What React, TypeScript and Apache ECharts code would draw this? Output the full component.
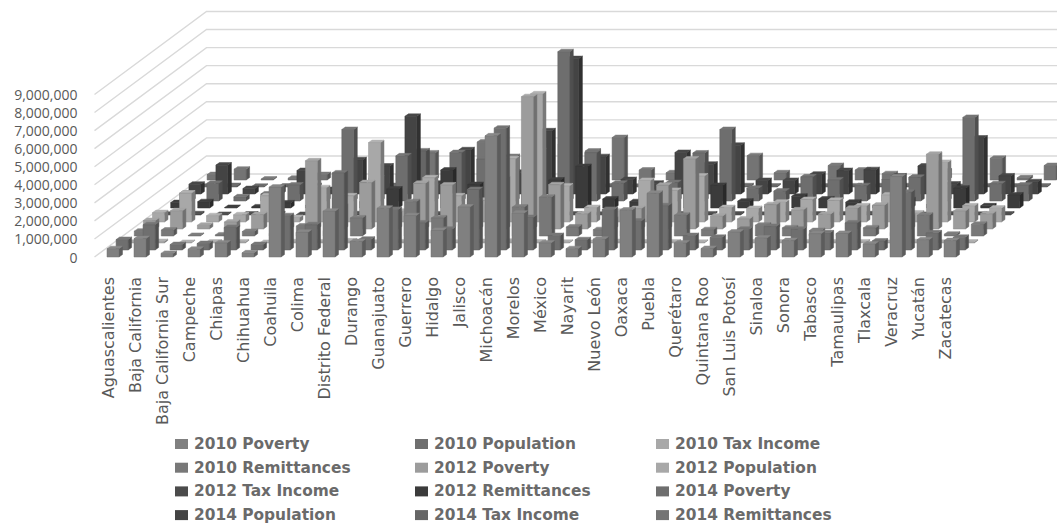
import React, { useEffect, useRef } from "react";
import * as echarts from "echarts";

const states = ["Aguascalientes","Baja California","Baja California Sur","Campeche","Chiapas","Chihuahua","Coahuila","Colima","Distrito Federal","Durango","Guanajuato","Guerrero","Hidalgo","Jalisco","Michoacán","Morelos","México","Nayarit","Nuevo León","Oaxaca","Puebla","Querétaro","Quintana Roo","San Luis Potosí","Sinaloa","Sonora","Tabasco","Tamaulipas","Tlaxcala","Veracruz","Yucatán","Zacatecas"];

// Values per state, in millions.
const poverty2010 = [0.46,1.02,0.2,0.43,0.78,0.23,3.87,1.37,2.54,0.86,2.7,2.29,1.47,2.77,6.71,2.43,0.78,0.46,0.99,2.6,3.53,0.77,0.47,1.38,1.05,0.91,1.29,1.3,0.72,4.45,0.96,0.91];
const population2010 = [0.58,1.4,0.3,0.36,1.25,0.3,1.9,1.4,4.27,0.6,2.25,1.5,1.15,3.35,6.75,1.8,0.8,0.57,2.25,1.6,2.45,0.8,0.7,1.15,1.3,1.15,0.95,1.5,0.5,3.2,0.95,0.7];
const taxIncome2010 = [0.04,0.08,0.03,0.05,0.06,0.03,0.07,0.06,0.12,0.04,0.06,0.05,0.04,0.08,0.1,0.05,0.04,0.03,0.08,0.05,0.06,0.04,0.04,0.05,0.05,0.06,0.06,0.06,0.03,0.07,0.04,0.05];
const remittances2010 = [0.27,0.33,0.03,0.06,0.25,0.15,0.55,0.3,1.0,0.45,1.9,1.0,0.65,1.75,1.6,2.15,0.5,0.35,0.3,1.15,1.15,0.35,0.1,0.6,0.45,0.3,0.12,0.45,0.2,1.15,0.1,0.65];
const poverty2012 = [0.47,1.01,0.21,0.39,0.8,0.24,3.78,1.27,2.57,0.86,2.53,2.44,1.47,2.78,7.33,2.45,0.84,0.55,1.13,2.43,3.88,0.71,0.56,1.35,1.06,0.82,1.15,1.32,0.71,4.14,1.0,0.84];
const population2012 = [0.52,1.6,0.35,0.4,1.45,0.25,1.9,1.45,4.4,0.6,2.45,1.45,1.2,3.5,7.1,2.0,0.8,0.6,2.3,1.75,2.55,0.8,0.75,1.1,1.25,1.2,0.9,1.5,0.5,3.3,0.9,0.77];
const taxIncome2012 = [0.04,0.07,0.03,0.05,0.07,0.03,0.06,0.07,0.11,0.04,0.06,0.05,0.05,0.07,0.11,0.05,0.04,0.03,0.09,0.05,0.06,0.05,0.04,0.05,0.05,0.06,0.07,0.05,0.03,0.06,0.04,0.05];
const remittances2012 = [0.3,0.35,0.03,0.06,0.28,0.15,0.55,0.35,1.05,0.5,2.1,1.3,0.7,1.85,1.55,2.3,0.5,0.35,0.35,1.25,1.25,0.38,0.1,0.65,0.5,0.32,0.12,0.45,0.2,1.1,0.12,0.72];
const poverty2014 = [0.44,0.98,0.23,0.39,0.89,0.25,3.96,1.27,2.5,0.76,2.68,2.32,1.55,2.78,8.27,2.68,0.99,0.48,1.02,2.66,3.96,0.71,0.55,1.34,1.17,0.85,1.19,1.31,0.75,4.63,0.96,0.88];
const population2014 = [0.54,1.6,0.3,0.35,1.3,0.25,1.9,1.55,4.3,0.6,2.45,1.6,1.2,3.5,7.5,2.07,0.8,0.6,2.3,1.65,2.7,0.75,0.75,1.1,1.3,1.35,1.0,1.55,0.55,3.1,1.0,0.68];
const taxIncome2014 = [0.04,0.08,0.04,0.05,0.07,0.03,0.06,0.08,2.0,0.05,0.07,0.05,0.05,0.08,0.12,0.06,0.04,0.04,0.1,0.05,0.07,0.05,0.05,0.05,0.06,0.07,0.07,0.06,0.03,0.06,0.05,0.05];
const remittances2014 = [0.3,0.6,0.05,0.1,0.3,0.2,0.55,0.35,1.5,0.5,2.1,1.3,0.7,2.0,1.6,2.35,0.55,0.4,0.4,1.3,1.35,0.4,0.12,0.8,0.55,0.35,0.15,0.5,0.25,1.2,0.12,0.8];

const seriesNames = ["2010 Poverty","2010 Population","2010 Tax Income","2010 Remittances","2012 Poverty","2012 Population","2012 Tax Income","2012 Remittances","2014 Poverty","2014 Population","2014 Tax Income","2014 Remittances"];
const seriesValues = [poverty2010,population2010,taxIncome2010,remittances2010,poverty2012,population2012,taxIncome2012,remittances2012,poverty2014,population2014,taxIncome2014,remittances2014];
const seriesColors = ["#808080","#6f6f6f","#a8a8a8","#787878","#9c9c9c","#a8a8a8","#4b4b4b","#3b3b3b","#6e6e6e","#444444","#666666","#747474"];

const yTicks = [0,1,2,3,4,5,6,7,8,9];

const TEXT = "#595959";
const FONT = "'Open Sans', sans-serif";
const WIDE_FONT = "'DejaVu Sans', sans-serif";
const MILLION = 1000000;

// Oblique projection of the depth axis, in pixels per series row
const ROW_DX = 9.1;
const ROW_DY = 7;
const BAR_W = 12;
const BAR_SHIFT = -1; // left edge of a front bar relative to its band centre
const BAR_DEPTH_X = 3.5;
const BAR_DEPTH_Y = 2.5;
const WALL_DX = 112;
const WALL_DY = 83;

// Multiplies a #rrggbb colour's channels by a factor
function shade(color: string, factor: number) {
  const channel = (at: number) => Math.min(255, Math.round(parseInt(color.slice(at, at + 2), 16) * factor));
  return `rgb(${channel(1)},${channel(3)},${channel(5)})`;
}

function barRenderer(row: number, color: string) {
  const side = shade(color, 0.72);
  const top = shade(color, 1.06);
  const edge = shade(color, 0.88);
  return (_p: any, api: any) => {
    const i = api.value(0);
    const v = api.value(1);
    const p = api.coord([i, v]);
    const b = api.coord([i, 0]);
    const l = p[0] + BAR_SHIFT + row * ROW_DX;
    const r = l + BAR_W;
    const t = p[1] - row * ROW_DY;
    const y0 = b[1] - row * ROW_DY;
    const sx = BAR_DEPTH_X;
    const sy = BAR_DEPTH_Y;
    return {
      type: "group",
      silent: true,
      children: [
        { type: "polygon", shape: { points: [[r, t], [r + sx, t - sy], [r + sx, y0 - sy], [r, y0]] }, style: { fill: side, stroke: side, lineWidth: 0.5 } },
        { type: "polygon", shape: { points: [[l, t], [l + sx, t - sy], [r + sx, t - sy], [r, t]] }, style: { fill: top, stroke: top, lineWidth: 0.5 } },
        { type: "rect", shape: { x: l, y: t, width: BAR_W, height: y0 - t }, style: { fill: color, stroke: edge, lineWidth: 0.5 } },
      ],
    };
  };
}

// Left wall and back wall gridlines, one polyline per value tick
function wallRenderer(_p: any, api: any) {
  const v = api.value(0);
  const a = api.coord([0, v]);
  const size = api.size([1, 0]);
  const x0 = a[0] - size[0] / 2;
  return {
    type: "polyline",
    silent: true,
    shape: { points: [[x0, a[1]], [x0 + WALL_DX, a[1] - WALL_DY], [1060, a[1] - WALL_DY]] },
    style: { fill: "none", stroke: "#d9d9d9", lineWidth: 1.4 },
  };
}

function legendColumn(names: string[], left: number) {
  return {
    orient: "vertical" as const,
    left,
    top: 430.5,
    height: 110,
    itemWidth: 13,
    itemHeight: 10,
    itemGap: 6.7,
    icon: "rect",
    selectedMode: false,
    data: names,
    textStyle: { color: "#6a6a6a", fontFamily: WIDE_FONT, fontSize: 15.4, fontWeight: "bold", padding: [0, 0, 0, 1], lineHeight: 17 },
  };
}

export default function App() {
  const ref = useRef<HTMLDivElement>(null);
  useEffect(() => {
    const chart = echarts.init(ref.current!, null, { renderer: "svg" });
    chart.setOption({
      animation: false,
      backgroundColor: "#ffffff",
      grid: { left: 94.5, width: 864, top: 94.5, height: 162.5, containLabel: false },
      xAxis: {
        type: "category",
        data: states,
        axisLine: { show: false },
        axisTick: { show: false },
        axisLabel: { interval: 0, rotate: 90, margin: 20, color: TEXT, fontFamily: WIDE_FONT, fontSize: 16 },
      },
      yAxis: {
        type: "value",
        min: 0,
        max: 9 * MILLION,
        interval: MILLION,
        axisLine: { show: false },
        axisTick: { show: false },
        splitLine: { show: false },
        axisLabel: {
          margin: 17,
          color: TEXT,
          fontFamily: FONT,
          fontSize: 14,
          formatter: (v: number) => v.toLocaleString("en-US"),
        },
      },
      legend: [
        legendColumn([seriesNames[0], seriesNames[3], seriesNames[6], seriesNames[9]], 170),
        legendColumn([seriesNames[1], seriesNames[4], seriesNames[7], seriesNames[10]], 410),
        legendColumn([seriesNames[2], seriesNames[5], seriesNames[8], seriesNames[11]], 651),
      ],
      series: [
        {
          type: "custom",
          name: "walls",
          z: 1,
          silent: true,
          clip: false,
          renderItem: wallRenderer,
          data: yTicks.map((t) => [t * MILLION]),
          encode: { y: 0 },
          coordinateSystem: "cartesian2d",
        },
        ...seriesNames.map((name, row) => ({
          type: "custom",
          name,
          z: 30 - row,
          silent: true,
          clip: false,
          itemStyle: { color: seriesColors[row] },
          renderItem: barRenderer(row, seriesColors[row]),
          data: seriesValues[row].map((v, i) => [i, v * MILLION]),
          encode: { x: 0, y: 1 },
        })),
      ],
    });
    return () => chart.dispose();
  }, []);
  return <div ref={ref} style={{ position: "absolute", left: 0, top: 0, width: 1057, height: 523 }} />;
}
